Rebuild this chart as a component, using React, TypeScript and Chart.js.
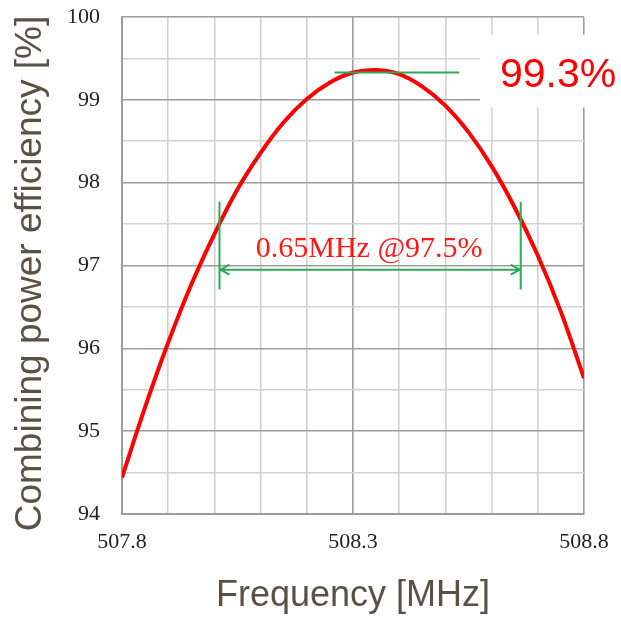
import React, { useEffect, useRef } from "react";
import { Chart, registerables } from "chart.js";

Chart.register(...registerables);

// Combining power efficiency vs. frequency
const FREQ_MHZ = [
  507.8, 507.85, 507.9, 507.95, 508.0, 508.05, 508.1, 508.15, 508.2, 508.25, 508.3,
  508.35, 508.4, 508.45, 508.5, 508.55, 508.6, 508.65, 508.7, 508.75, 508.8,
];
const EFFICIENCY = [
  94.44, 95.29, 96.07, 96.77, 97.38, 97.92, 98.36, 98.73, 99.01, 99.21, 99.33,
  99.36, 99.31, 99.16, 98.93, 98.61, 98.2, 97.7, 97.12, 96.44, 95.64,
];

const X_TICK_LABELS = ["507.8", "508.3", "508.8"];
const Y_TICK_LABELS = ["94", "95", "96", "97", "98", "99", "100"];

// Peak marker and bandwidth marker (data units)
const PEAK_LINE_X = [508.26, 508.53];
const PEAK_LINE_Y = 99.33;
const PEAK_TEXT = "99.3%";
const BAND_X = [508.011, 508.663];
const BAND_ARROW_Y = 96.95;
const BAND_TICK_Y = [96.71, 97.77];
const BAND_TEXT = "0.65MHz @97.5%";
const BAND_TEXT_POS = { x: 508.335, y: 97.1 };

const GREEN = "#2ea85a";
const RED = "#ff0000";
const GRID_MINOR = "#d2d2d2";
const GRID_MAJOR = "#9c9c9c";
const TITLE_COLOR = "#595046";

const isMajorX = (v: number) =>
  X_TICK_LABELS.some((l) => Math.abs(parseFloat(l) - v) < 1e-6);
const isMajorY = (v: number) => Math.abs(v - Math.round(v)) < 1e-6;

const annotations = {
  id: "annotations",
  afterDraw(chart: any) {
    const { ctx, scales } = chart;
    const xs = scales.x;
    const ys = scales.y;
    ctx.save();

    // peak level line
    ctx.strokeStyle = GREEN;
    ctx.lineWidth = 2;
    ctx.beginPath();
    ctx.moveTo(xs.getPixelForValue(PEAK_LINE_X[0]), ys.getPixelForValue(PEAK_LINE_Y));
    ctx.lineTo(xs.getPixelForValue(PEAK_LINE_X[1]), ys.getPixelForValue(PEAK_LINE_Y));
    ctx.stroke();

    // bandwidth dimension
    const xl = xs.getPixelForValue(BAND_X[0]);
    const xr = xs.getPixelForValue(BAND_X[1]);
    const ya = ys.getPixelForValue(BAND_ARROW_Y);
    const yt = ys.getPixelForValue(BAND_TICK_Y[1]);
    const yb = ys.getPixelForValue(BAND_TICK_Y[0]);
    ctx.beginPath();
    ctx.moveTo(xl, yt);
    ctx.lineTo(xl, yb);
    ctx.moveTo(xr, yt);
    ctx.lineTo(xr, yb);
    ctx.moveTo(xl, ya);
    ctx.lineTo(xr, ya);
    ctx.moveTo(xl + 10, ya - 5);
    ctx.lineTo(xl + 1, ya);
    ctx.lineTo(xl + 10, ya + 5);
    ctx.moveTo(xr - 10, ya - 5);
    ctx.lineTo(xr - 1, ya);
    ctx.lineTo(xr - 10, ya + 5);
    ctx.stroke();

    ctx.fillStyle = "rgba(255,0,0,0.9)";
    ctx.font = '30px "Liberation Serif"';
    ctx.textAlign = "center";
    ctx.textBaseline = "alphabetic";
    ctx.fillText(
      BAND_TEXT,
      xs.getPixelForValue(BAND_TEXT_POS.x),
      ys.getPixelForValue(BAND_TEXT_POS.y)
    );

    // peak value label on a white box
    const py = ys.getPixelForValue(PEAK_LINE_Y);
    ctx.fillStyle = "#ffffff";
    ctx.fillRect(480, py - 38, chart.width - 480, 73);
    ctx.fillStyle = RED;
    ctx.font = '41px "Liberation Sans"';
    ctx.textAlign = "left";
    ctx.fillText(PEAK_TEXT, 500, py + 15);

    // y axis title
    ctx.fillStyle = TITLE_COLOR;
    ctx.font = '37px "Liberation Sans"';
    ctx.textAlign = "center";
    ctx.textBaseline = "middle";
    ctx.translate(31, (chart.chartArea.top + chart.chartArea.bottom) / 2 + 8);
    ctx.rotate(-Math.PI / 2);
    ctx.fillText("Combining power efficiency [%]", 0, 0);

    ctx.restore();
  },
};

export default function App() {
  const canvasRef = useRef<HTMLCanvasElement | null>(null);

  useEffect(() => {
    if (!canvasRef.current) return;
    const chart = new Chart(canvasRef.current, {
      type: "line",
      data: {
        datasets: [
          {
            data: FREQ_MHZ.map((x, i) => ({ x, y: EFFICIENCY[i] })),
            borderColor: RED,
            borderWidth: 4,
            pointRadius: 0,
            tension: 0.35,
            fill: false,
          },
        ],
      },
      options: {
        animation: false,
        responsive: false,
        devicePixelRatio: 1,
        layout: { padding: { left: 0, top: 17, right: 37, bottom: 0 } },
        plugins: {
          legend: { display: false },
          tooltip: { enabled: false },
        },
        scales: {
          x: {
            type: "linear",
            min: 507.8,
            max: 508.8,
            afterFit: (s: any) => {
              s.height = 104;
              s.paddingLeft = 0;
              s.paddingRight = 0;
            },
            ticks: {
              stepSize: 0.1,
              autoSkip: false,
              maxRotation: 0,
              padding: 15,
              color: "#222",
              font: { family: "Liberation Serif", size: 22 },
              callback: (v: any) => {
                const s = Number(v).toFixed(1);
                return X_TICK_LABELS.includes(s) ? s : "";
              },
            },
            grid: {
              drawTicks: false,
              lineWidth: 1.6,
              color: (c: any) => (isMajorX(c.tick.value) ? GRID_MAJOR : GRID_MINOR),
            },
            border: { display: true, color: GRID_MAJOR, width: 2 },
            title: {
              display: true,
              text: "Frequency [MHz]",
              color: TITLE_COLOR,
              font: { family: "Liberation Sans", size: 36 },
              padding: { top: 0, bottom: 0 },
            },
          },
          y: {
            type: "linear",
            min: 94,
            max: 100,
            afterFit: (s: any) => {
              s.width = 122;
              s.paddingTop = 0;
              s.paddingBottom = 0;
            },
            ticks: {
              stepSize: 0.5,
              autoSkip: false,
              padding: 22,
              color: "#222",
              font: { family: "Liberation Serif", size: 22 },
              callback: (v: any) => {
                const s = String(Number(v));
                return Y_TICK_LABELS.includes(s) ? s : "";
              },
            },
            grid: {
              drawTicks: false,
              lineWidth: 1.6,
              color: (c: any) => (isMajorY(c.tick.value) ? GRID_MAJOR : GRID_MINOR),
            },
            border: { display: true, color: GRID_MAJOR, width: 2 },
          },
        },
      },
      plugins: [annotations],
    });
    return () => chart.destroy();
  }, []);

  return (
    <div style={{ position: "absolute", left: 0, top: 0, width: 621, height: 618, background: "#fff" }}>
      <canvas ref={canvasRef} width={621} height={618} style={{ display: "block" }} />
    </div>
  );
}
